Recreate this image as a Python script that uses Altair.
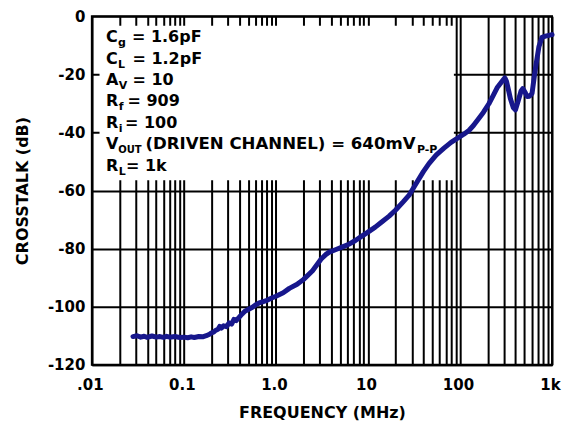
import math
import altair as alt
import pandas as pd

# ---------------- data ----------------
freq_mhz = [0.028, 0.031, 0.034, 0.037, 0.04, 0.045, 0.05, 0.055, 0.06, 0.065,
            0.07, 0.08, 0.09, 0.1, 0.11, 0.12, 0.13, 0.145, 0.16, 0.175,
            0.19, 0.2, 0.21, 0.22, 0.235, 0.245, 0.255, 0.27, 0.29, 0.31,
            0.33, 0.35, 0.37, 0.4, 0.43, 0.46, 0.5, 0.55, 0.6, 0.65,
            0.7, 0.8, 0.9, 1.0, 1.2, 1.4, 1.7, 2.0, 2.5, 3.1,
            3.5, 3.8, 4.5, 5.3, 6.3, 7.3, 8.5, 10, 12, 14,
            17, 20, 24, 28, 33, 40, 46, 55, 67, 80,
            97, 110, 125, 140, 160, 180, 206, 230, 253, 280,
            307, 320, 340, 354, 380, 401, 430, 460, 481, 510,
            536, 570, 607, 640, 671, 720, 778, 850, 1000]
crosstalk_db = [-110.3, -110.0, -110.5, -110.2, -110.6, -110.1, -110.5, -110.3, -110.6, -110.2,
                -110.5, -110.3, -110.6, -110.5, -110.7, -110.4, -110.6, -110.3, -110.4, -110.0,
                -109.5, -109.0, -108.8, -108.2, -107.8, -106.8, -107.4, -106.6, -106.9, -105.6,
                -106.0, -104.4, -104.8, -103.6, -102.5, -101.6, -101.0, -100.3, -99.4, -98.8,
                -98.4, -97.8, -97.0, -96.4, -95.2, -93.7, -92.3, -90.6, -87.6, -83.6,
                -82.0, -81.2, -80.3, -79.4, -78.4, -77.2, -75.8, -74.3, -72.6, -70.9,
                -68.8, -66.7, -64.0, -61.6, -57.8, -53.5, -50.7, -47.8, -45.4, -43.4,
                -41.7, -40.6, -39.3, -37.6, -35.2, -33.0, -30.1, -27.2, -24.6, -22.8,
                -21.2, -22.4, -26.0, -28.5, -31.5, -32.2, -29.0, -25.8, -24.9, -26.2,
                -27.6, -27.5, -26.5, -21.0, -16.5, -10.5, -7.2, -6.8, -6.3]

x_decades = [0.01, 0.1, 1, 10, 100, 1000]
x_tick_labels = [".01", "0.1", "1.0", "10", "100", "1k"]
y_ticks = [-120, -100, -80, -60, -40, -20, 0]

param_main = ["C", "C", "A", "R", "R", "V", "R"]
param_sub = ["g", "L", "V", "f", "i", "OUT", "L"]
param_value = ["= 1.6pF", "= 1.2pF", "= 10", "= 909", "= 100",
               "(DRIVEN CHANNEL) = 640mV", "= 1k"]
vout_unit_sub = "P-P"

x_title = "FREQUENCY (MHz)"
y_title = "CROSSTALK (dB)"

# grid positions: 1..9 x each decade
x_grid = [k * d for d in x_decades[:-1] for k in range(1, 10)] + [x_decades[-1]]

df = pd.DataFrame({"freq": freq_mhz, "db": crosstalk_db})

# ---------------- layout constants (pixels) ----------------
W, H = 461, 349
FONT = "DejaVu Sans"
BLUE = "#17178c"

label_cases = " : ".join(
    f"round(log(datum.value)/LN10) == {round(math.log10(v))} ? '{t}'"
    for v, t in zip(x_decades, x_tick_labels)
) + " : ''"
label_expr = ("abs(log(datum.value)/LN10 - round(log(datum.value)/LN10)) > 0.001 ? '' : "
              + label_cases)

x_enc = alt.X("freq:Q",
              scale=alt.Scale(type="log", domain=[0.01, 1000], nice=False),
              axis=alt.Axis(values=x_grid, labelExpr=label_expr, title=x_title,
                            labelOverlap=False, labelFlush=False, labelPadding=13,
                            labelOffset=-2, titleY=53, titleBaseline="alphabetic"))
y_enc = alt.Y("db:Q",
              scale=alt.Scale(domain=[-120, 0], nice=False),
              axis=alt.Axis(values=y_ticks, title=y_title, labelPadding=7,
                            labelExpr="'' + datum.value",
                            titleX=-64, titleY=H / 2, titleAngle=270,
                            titleAlign="center", titleBaseline="alphabetic"))

base = alt.Chart(df)

curve = base.mark_line(color=BLUE, strokeWidth=5, strokeJoin="round",
                       strokeCap="round").encode(x=x_enc, y=y_enc)

one = alt.Data(values=[{"k": 1}])

# white box behind the parameter list
box = alt.Chart(one).mark_rect(color="white").encode(
    x=alt.value(7.7), x2=alt.value(362.7), y=alt.value(9.3), y2=alt.value(164.3))

layers = [box]

baselines = [41.5, 63, 84.5, 106, 127.5, 149, 170.5]
sub_x = [118.4, 118.4, 119.2, 119.2, 119.2, 118.8, 119.2]
sub_size = [11, 11, 11, 11, 11, 10, 11]
val_x = [132.5, 133.0, 133.0, 128.0, 125.5, 146.0, 126.5]
val_size = [16, 16, 16, 16, 16, 16.6, 16]
X0, Y0 = 92.3, 15.7


def txt(s, x, y, size):
    return alt.Chart(one).mark_text(
        text=s, font=FONT, fontWeight="bold", fontSize=size, color="black",
        align="left", baseline="alphabetic").encode(x=alt.value(x), y=alt.value(y))


for i in range(len(param_main)):
    yb = baselines[i] - Y0
    layers.append(txt(param_main[i], 106.5 - X0, yb, 16))
    layers.append(txt(param_sub[i], sub_x[i] - X0, yb + 4, sub_size[i]))
    layers.append(txt(param_value[i], val_x[i] - X0, yb, val_size[i]))
layers.append(txt(vout_unit_sub, 418.0 - X0, baselines[5] - Y0 + 4, 11))

layers.append(curve)

chart = alt.layer(*layers).properties(
    width=W, height=H,
    autosize=alt.AutoSizeParams(type="none"),
    padding={"left": 84, "top": 8, "right": 12, "bottom": 58},
    background="white",
).configure_axis(
    labelFont=FONT, labelFontSize=15, labelFontWeight="bold", labelColor="black",
    titleFont=FONT, titleFontSize=16, titleFontWeight="bold", titleColor="black",
    domainColor="black", domainWidth=2,
    grid=True, gridColor="black", gridWidth=2, gridOpacity=1,
    ticks=False,
).configure_view(stroke="black", strokeWidth=2)

chart.save("out.html", embed_options={"renderer": "svg", "actions": False})
